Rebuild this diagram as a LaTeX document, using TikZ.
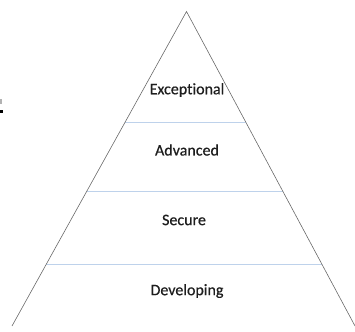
\documentclass[tikz,border=0pt]{standalone}
\usepackage{fontspec}
\setmainfont{Carlito}[Ligatures=NoCommon,FakeBold=0.6]
\usetikzlibrary{calc}
\tikzset{
edge/.style={
  draw={rgb,255:red,105;green,105;blue,105}, line width=0.6pt
  },
level/.style={
  draw={rgb,255:red,190;green,210;blue,235}, line width=1.1pt
  },
tier/.style={
  font=\fontsize{16}{18}\selectfont, text={rgb,255:red,30;green,30;blue,30}, inner sep=1pt
  }
}
\begin{document}
\begin{tikzpicture}[x=1pt,y=-1pt]
\useasboundingbox (0,0) rectangle (355,331);

\coordinate (apex) at (186.5,11.5);
\coordinate (bl) at (12,326);
\coordinate (br) at (355,326);

\draw[level] ($(apex)!0.352!(bl)$) -- ($(apex)!0.352!(br)$);
\draw[level] ($(apex)!0.572!(bl)$) -- ($(apex)!0.572!(br)$);
\draw[level] ($(apex)!0.805!(bl)$) -- ($(apex)!0.805!(br)$);

\draw[edge] (bl) -- (apex) -- (br);

\node[tier] (exc) at (187,90) {Exceptional};
\node[tier] (adv) at (187,150) {Advanced};
\node[tier] (sec) at (184,220) {Secure};
\node[tier] (dev) at (187,291) {Developing};

\fill[black] (0,110) rectangle (3,113);
\fill[gray!60] (0,99) rectangle (2,104);

\end{tikzpicture}
\end{document}
